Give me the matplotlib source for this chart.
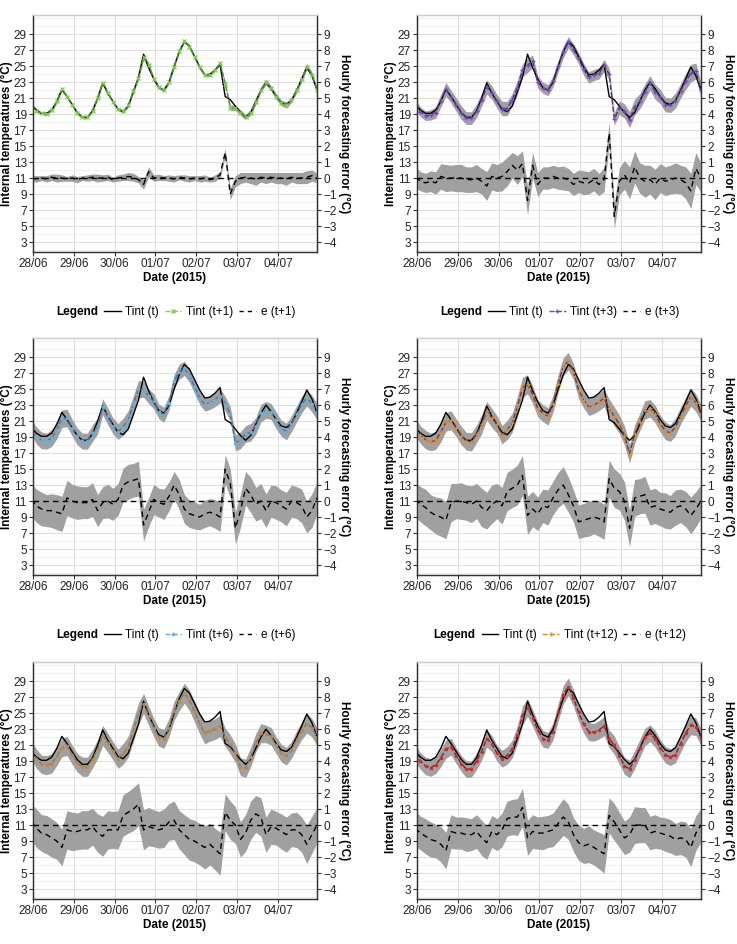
import numpy as np
import matplotlib
matplotlib.use("Agg")
import matplotlib.pyplot as plt
import matplotlib.dates as mdates
from matplotlib.lines import Line2D
from matplotlib.ticker import FixedLocator, MultipleLocator

plt.rcParams['font.family'] = ['Liberation Sans', 'DejaVu Sans']

# sample times: every 3 h from 27/06 23:00 to 04/07 23:00
hours = np.arange(-1, 168, 3)
times = np.datetime64('2015-06-28T00:00') + hours.astype('timedelta64[h]')

# measured internal temperature Tint(t), degC
tint = [20.2, 19.5, 19.1, 19.1, 19.5, 20.6, 22.1, 21.2, 20.2,
        19.2, 18.6, 18.6, 19.4, 21.0, 22.9, 21.6, 20.6,
        19.6, 19.3, 20.0, 21.8, 23.6, 26.5, 24.8, 23.4,
        22.3, 22.0, 23.0, 25.0, 26.8, 28.1, 27.5, 26.2,
        24.9, 23.9, 24.0, 24.5, 25.2, 21.2, 20.8, 20.0,
        19.2, 18.6, 19.2, 20.6, 22.0, 23.0, 22.2, 21.2,
        20.4, 20.2, 20.7, 22.0, 23.4, 24.9, 23.8, 22.0]

# forecasting errors e = forecast - measured, degC
err_t1 = [0.0, -0.05, 0.0, -0.05, 0.05, 0.0, 0.0, -0.05, 0.0,
          -0.1, 0.0, 0.0, 0.05, 0.0, 0.0, 0.05, -0.1,
          0.0, 0.05, 0.1, 0.05, -0.1, -0.4, 0.4, 0.0,
          0.05, 0.0, 0.0, -0.05, 0.05, 0.0, -0.05, 0.0,
          -0.05, 0.0, -0.1, 0.0, 0.2, 1.6, -1.0, -0.2,
          0.0, 0.05, 0.0, -0.05, 0.05, 0.0, 0.05, 0.0,
          0.0, -0.05, 0.05, 0.0, 0.0, 0.05, 0.15, 0.0]
err_t3 = [0.05, -0.2, -0.3, -0.2, -0.3, 0.1, 0.0, 0.0, 0.0,
          0.0, -0.1, -0.1, 0.0, -0.2, -0.5, 0.1, 0.0,
          0.1, 0.4, 0.8, 0.5, 0.9, -1.4, 0.8, -0.4,
          0.0, 0.0, 0.1, 0.0, 0.0, -0.1, -0.4, -0.2,
          -0.3, -0.3, -0.1, -0.4, -0.1, 2.8, -2.4, -0.2,
          0.2, -0.3, 0.7, 0.0, -0.2, -0.1, -0.4, 0.0,
          -0.2, -0.1, 0.0, -0.1, -0.3, -0.8, 0.6, 0.0]
err_t6 = [0.1, -0.3, -0.5, -0.6, -0.6, -0.7, -0.8, 0.2, 0.0,
          -0.1, -0.1, -0.1, 0.1, -0.6, -0.1, 0.0, -0.2,
          0.1, 1.0, 1.2, 1.3, 1.4, -1.5, -0.7, 0.1,
          -0.1, -0.2, 0.3, 1.0, 0.4, -0.5, -0.8, -0.9,
          -1.0, -0.8, -0.7, -0.8, -1.0, 2.0, 1.1, -1.7,
          -0.6, 0.8, 0.4, -0.2, 0.0, -0.6, 0.0, -0.1,
          -0.3, -0.5, 0.0, -0.1, -0.3, -1.0, -0.6, 0.2]
err_t12 = [0.1, -0.2, -0.4, -0.7, -0.9, -1.0, -1.2, -0.1, 0.0,
           0.0, -0.1, -0.2, 0.0, -0.4, -0.6, -0.2, 0.0,
           -0.3, 0.6, 0.8, 1.0, 1.6, -0.9, -0.5, -0.8,
           -0.3, -0.4, 0.2, 0.7, 1.0, 0.4, -0.3, -1.3,
           -1.2, -1.1, -1.0, -1.1, -1.3, 1.4, 0.8, 0.6,
           0.0, -1.7, 0.2, 0.3, 0.4, -0.4, -0.3, -0.5,
           -0.6, -0.7, -0.4, -0.3, -0.5, -0.9, -0.5, 0.0]
err_p5 = [0.2, -0.2, -0.5, -0.6, -0.8, -1.0, -1.4, -0.3, -0.4,
          -0.4, -0.3, -0.3, -0.1, -0.5, -0.7, -0.3, -0.3,
          -0.3, 0.6, 0.8, 1.0, 1.3, -0.3, -0.1, -0.2,
          -0.3, -0.2, 0.2, 0.3, -0.3, -0.6, -0.9, -1.0,
          -1.2, -1.4, -1.2, -1.5, -1.8, 0.8, 0.3, 0.0,
          -0.9, -0.5, 0.3, 0.7, 0.5, -0.6, -0.1, -0.2,
          -0.4, -0.6, -0.3, -0.3, -0.6, -1.2, -0.6, 0.0]
err_p6 = [-0.2, -0.5, -0.7, -0.9, -1.0, -1.2, -1.6, -0.4, -0.5,
          -0.5, -0.6, -0.6, -0.4, -0.8, -1.1, -0.4, -0.6,
          -0.3, 0.4, 0.5, 0.5, 1.1, -0.8, -0.4, -0.5,
          -0.5, -0.4, -0.3, 0.1, 0.5, 0.2, -0.6, -1.1,
          -1.3, -1.2, -1.4, -1.6, -1.8, 0.6, 0.2, -0.3,
          -0.8, -0.6, 0.0, 0.0, 0.0, -0.5, -0.4, -0.5,
          -0.6, -0.7, -0.9, -0.8, -0.9, -1.4, -0.5, 0.0]

# half width of the grey uncertainty ribbons, degC
band_t1 = [0.2, 0.2, 0.15, 0.2, 0.2, 0.25, 0.2, 0.15, 0.2,
           0.2, 0.15, 0.2, 0.2, 0.25, 0.2, 0.2, 0.15,
           0.2, 0.2, 0.25, 0.25, 0.2, 0.3, 0.3, 0.2,
           0.2, 0.15, 0.2, 0.2, 0.15, 0.2, 0.2, 0.15,
           0.2, 0.2, 0.15, 0.2, 0.2, 0.25, 0.35, 0.35,
           0.35, 0.3, 0.35, 0.4, 0.3, 0.35, 0.3, 0.35,
           0.35, 0.4, 0.3, 0.35, 0.35, 0.4, 0.35, 0.3]
band_t3 = [0.65, 0.6, 0.6, 0.65, 0.7, 0.8, 0.85, 0.8, 0.85,
           0.85, 0.8, 0.8, 0.85, 0.8, 0.9, 0.85, 0.85,
           0.9, 0.9, 0.8, 0.9, 0.8, 0.9, 0.8, 0.75,
           0.7, 0.7, 0.7, 0.7, 0.75, 0.7, 0.7, 0.7,
           0.75, 0.7, 0.7, 0.7, 0.75, 0.7, 0.8, 0.85,
           0.9, 1.0, 1.0, 0.95, 1.0, 0.9, 0.95, 0.9,
           0.9, 0.9, 0.95, 0.9, 1.0, 1.1, 1.0, 0.9]
band_t6 = [1.0, 1.05, 1.05, 1.0, 1.05, 1.1, 1.1, 1.1, 1.05,
           1.05, 1.0, 1.0, 1.05, 1.0, 1.0, 1.05, 1.0,
           1.0, 1.05, 1.1, 1.05, 1.1, 1.0, 0.9, 0.95,
           0.9, 0.95, 0.9, 0.85, 0.95, 0.9, 0.85, 0.85,
           0.8, 0.85, 0.85, 0.9, 0.9, 0.9, 0.9, 1.0,
           1.05, 1.05, 1.1, 1.05, 1.1, 1.05, 1.0, 1.05,
           1.0, 1.05, 1.0, 1.0, 1.05, 1.0, 1.05, 1.0]
band_t12 = [1.1, 1.1, 1.15, 1.1, 1.15, 1.2, 1.15, 1.2, 1.1,
            1.15, 1.1, 1.15, 1.1, 1.2, 1.15, 1.2, 1.1,
            1.15, 1.2, 1.2, 1.25, 1.25, 1.2, 1.1, 1.05,
            1.05, 1.1, 1.05, 1.1, 1.15, 1.1, 1.0, 1.05,
            1.05, 1.1, 1.05, 1.1, 1.1, 1.15, 1.2, 1.15,
            1.2, 1.15, 1.15, 1.1, 1.15, 1.1, 1.1, 1.05,
            1.1, 1.05, 1.1, 1.05, 1.1, 1.15, 1.1, 1.05]
band_p5 = [1.15, 1.2, 1.15, 1.2, 1.2, 1.15, 1.15, 1.2, 1.2,
           1.15, 1.2, 1.2, 1.15, 1.2, 1.25, 1.2, 1.15,
           1.2, 1.3, 1.3, 1.35, 1.35, 1.25, 1.2, 1.15,
           1.15, 1.2, 1.15, 1.2, 1.2, 1.25, 1.3, 1.3,
           1.3, 1.35, 1.3, 1.3, 1.35, 1.15, 1.2, 1.15,
           1.1, 1.15, 1.2, 1.15, 1.2, 1.1, 1.1, 1.05,
           1.1, 1.1, 1.05, 1.1, 1.1, 1.2, 1.15, 1.1]
band_p6 = [1.1, 1.05, 1.1, 1.1, 1.05, 1.1, 1.15, 1.05, 1.0,
           1.0, 1.05, 1.0, 1.05, 1.1, 1.05, 1.0, 1.0,
           1.05, 1.1, 1.1, 1.15, 1.2, 1.1, 1.05, 1.0,
           1.05, 1.0, 1.05, 1.1, 1.15, 1.1, 1.05, 1.1,
           1.1, 1.15, 1.1, 1.15, 1.2, 1.1, 1.15, 1.1,
           1.05, 1.1, 1.15, 1.1, 1.1, 1.05, 1.05, 1.0,
           1.05, 1.05, 1.0, 1.05, 1.1, 1.2, 1.1, 1.05]

horizons = ['t+1', 't+3', 't+6', 't+12', None, None]
errors = [err_t1, err_t3, err_t6, err_t12, err_p5, err_p6]
bands = [band_t1, band_t3, band_t6, band_t12, band_p5, band_p6]
line_colors = ['#3f9a2c', '#5a2a9c', '#3b79b3', '#8a3a1c', '#9a7446', '#a3151a']
marker_colors = ['#7fd04a', '#7b3fd8', '#5ab4e0', '#e08a30', '#b98a4e', '#d42a2a']
markers = ['x', '+', '.', '+', '.', '.']

GREY = '#a0a0a0'
DARK = '#333333'

W, H = 737, 944
fig = plt.figure(figsize=(W / 100, H / 100), dpi=100)

# panel boxes in pixels: left, top
lefts = [33, 417]
tops = [15, 338, 662]
pw, ph = 284, 237
legend_y = [312, 635]

tlim = (np.datetime64('2015-06-28T00:00'), np.datetime64('2015-07-04T23:00'))
ylim_left = (1.75, 31.4)
ylim_right = ((ylim_left[0] - 11) / 2, (ylim_left[1] - 11) / 2)

tint_arr = np.array(tint)

for i in range(6):
    row, col = divmod(i, 2)
    l, t = lefts[col], tops[row]
    ax = fig.add_axes([l / W, 1 - (t + ph) / H, pw / W, ph / H])
    ax2 = ax.twinx()

    e = np.array(errors[i])
    w = np.array(bands[i])
    fc = tint_arr + e

    ax.fill_between(times, fc - w, fc + w, color=GREY, lw=0, zorder=1)
    ax.plot(times, tint_arr, color='black', lw=1.0, zorder=3)
    ax.plot(times, fc, color=line_colors[i], lw=1.0, ls='--', zorder=4,
            marker=markers[i], ms=3.2, mew=0.9, mec=marker_colors[i], mfc=marker_colors[i])

    ax2.fill_between(times, e - w, e + w, color=GREY, lw=0, zorder=1)
    ax2.axhline(0, color='black', lw=1.0, ls=(0, (4, 3)), zorder=2)
    ax2.plot(times, e, color='black', lw=1.0, ls=(0, (4, 3)), zorder=3)

    ax.set_xlim(tlim)
    ax.set_ylim(ylim_left)
    ax2.set_ylim(ylim_right)

    ax.yaxis.set_major_locator(FixedLocator(np.arange(3, 30, 2)))
    ax.yaxis.set_minor_locator(MultipleLocator(1))
    ax2.yaxis.set_major_locator(FixedLocator(np.arange(-4, 10, 1)))
    ax.xaxis.set_major_locator(mdates.DayLocator())
    ax.xaxis.set_major_formatter(mdates.DateFormatter('%d/%m'))

    ax.grid(which='major', color='#dedede', lw=0.8)
    ax.grid(which='minor', axis='y', color='#ececec', lw=0.6)
    ax.set_axisbelow(True)

    for a in (ax, ax2):
        a.tick_params(which='major', direction='out', length=3, width=0.8,
                      color=DARK, labelsize=8.5, labelcolor='#222222', pad=1.5)
        a.tick_params(which='minor', length=0)
        for side in ('left', 'right', 'bottom'):
            a.spines[side].set_color(DARK)
            a.spines[side].set_linewidth(0.9)
        a.spines['top'].set_color('#cccccc')
        a.spines['top'].set_linewidth(0.9)

    ax.set_xlabel('Date (2015)', fontsize=8.5, fontweight='bold', labelpad=1)
    ax.set_ylabel('Internal temperatures (°C)', fontsize=8.5, fontweight='bold', labelpad=0.5)
    ax2.set_ylabel('Hourly forecasting error (°C)', fontsize=8.5, fontweight='bold',
                   rotation=270, va='bottom', labelpad=1)

    if horizons[i] is not None:
        h = horizons[i]
        handles = [Line2D([], [], alpha=0),
                   Line2D([], [], color='black', lw=1.0),
                   Line2D([], [], color=marker_colors[i], lw=1.0, ls='--',
                          marker=markers[i], ms=3.2, mec=marker_colors[i]),
                   Line2D([], [], color='black', lw=1.0, ls=(0, (3, 3)))]
        labels = ['Legend', 'Tint (t)', 'Tint (%s)' % h, 'e (%s)' % h]
        xc = (l + pw / 2 - 10) / W
        leg = fig.legend(handles, labels, loc='center', ncol=4, frameon=False,
                         bbox_to_anchor=(xc, 1 - legend_y[row] / H),
                         fontsize=8.5, handlelength=1.4, handletextpad=0.4,
                         columnspacing=0.5, borderpad=0)
        leg.get_texts()[0].set_fontweight('bold')

fig.savefig('out.png', dpi=100)
